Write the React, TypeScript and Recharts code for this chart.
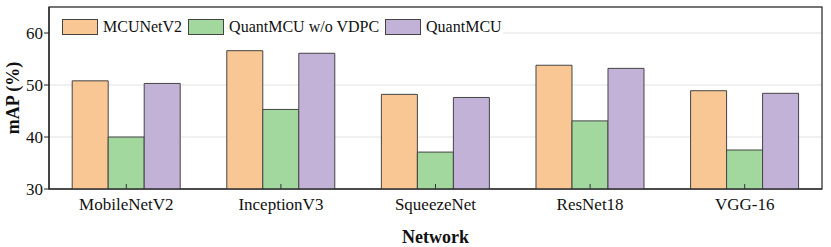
import { BarChart, Bar, XAxis, YAxis, CartesianGrid, useOffset, useChartWidth, useChartHeight } from "recharts";

const networks = ["MobileNetV2", "InceptionV3", "SqueezeNet", "ResNet18", "VGG-16"];
const mcunetV2 = [50.8, 56.6, 48.2, 53.8, 48.9];
const quantNoVdpc = [40.0, 45.3, 37.1, 43.1, 37.5];
const quantMcu = [50.3, 56.1, 47.6, 53.2, 48.4];
const yTicks = [30, 40, 50, 60];

const seriesInfo = [
  { key: "mcunet", name: "MCUNetV2", color: "#F9C794" },
  { key: "noVdpc", name: "QuantMCU w/o VDPC", color: "#A2D79D" },
  { key: "quant", name: "QuantMCU", color: "#C2B2D7" },
];

const data = networks.map((n, i) => ({
  name: n,
  mcunet: mcunetV2[i],
  noVdpc: quantNoVdpc[i],
  quant: quantMcu[i],
}));

const FONT = "'Liberation Serif', 'Times New Roman', serif";

function XTick(props: any) {
  const { x, y, payload } = props;
  return (
    <g>
      <line x1={x} x2={x} y1={y} y2={y - 5} stroke="#333" strokeWidth={1} />
      <text x={x} y={y + 21} textAnchor="middle" fontSize={17} fontFamily={FONT} fill="#111">
        {payload.value}
      </text>
    </g>
  );
}

function YTitle(props: any) {
  const { viewBox } = props;
  const cx = 13;
  const cy = viewBox.y + viewBox.height / 2;
  return (
    <text
      x={cx}
      y={cy}
      transform={`rotate(-90 ${cx} ${cy})`}
      textAnchor="middle"
      dominantBaseline="central"
      fontFamily={FONT}
      fontSize={18}
      fontWeight="bold"
      fill="#111"
    >
      mAP (%)
    </text>
  );
}

// box around the plot area
function Frame() {
  const off = useOffset();
  const w = useChartWidth();
  const h = useChartHeight();
  if (!off || !w || !h) return null;
  return (
    <rect
      x={off.left}
      y={off.top}
      width={w - off.left - off.right}
      height={h - off.top - off.bottom}
      fill="none"
      stroke="#222"
      strokeWidth={1.2}
    />
  );
}

function LegendBox() {
  return (
    <div
      style={{
        position: "absolute",
        left: 50,
        top: 13,
        display: "flex",
        alignItems: "center",
        background: "#fff",
        height: 28,
        fontFamily: FONT,
        fontSize: 16,
        color: "#111",
        paddingLeft: 12,
        width: 453,
        boxSizing: "border-box",
      }}
    >
      {seriesInfo.map((s) => (
        <div key={s.key} style={{ display: "flex", alignItems: "center", marginRight: 6 }}>
          <span
            style={{
              display: "inline-block",
              width: 34,
              height: 14,
              background: s.color,
              border: "1px solid #444",
              marginRight: 5,
            }}
          />
          <span style={{ whiteSpace: "nowrap" }}>{s.name}</span>
        </div>
      ))}
    </div>
  );
}

export default function App() {
  return (
    <div style={{ position: "absolute", left: 0, top: 0, width: 831, height: 247, background: "#fff" }}>
      <BarChart
        width={831}
        height={247}
        data={data}
        margin={{ top: 7, right: 9, left: 0, bottom: 0 }}
        barCategoryGap="15%"
        barGap={0}
      >
        <CartesianGrid vertical={false} stroke="#e2e2e2" />
        <XAxis
          dataKey="name"
          height={58}
          tickLine={false}
          tickSize={0}
          tickMargin={0}
          axisLine={{ stroke: "#222", strokeWidth: 1.2 }}
          tick={<XTick />}
          interval={0}
          label={{
            value: "Network",
            position: "insideBottom",
            offset: 4,
            style: { fontFamily: FONT, fontSize: 18, fontWeight: "bold", fill: "#111" },
          }}
        />
        <YAxis
          width={49}
          domain={[30, 65]}
          ticks={yTicks}
          allowDataOverflow
          tickSize={5}
          tickMargin={1}
          tickLine={{ stroke: "#222" }}
          axisLine={{ stroke: "#222", strokeWidth: 1.2 }}
          tick={{ fontFamily: FONT, fontSize: 17, fill: "#111" }}
          label={<YTitle />}
        />
        {seriesInfo.map((s) => (
          <Bar
            key={s.key}
            dataKey={s.key}
            name={s.name}
            fill={s.color}
            stroke="#444"
            strokeWidth={1}
            isAnimationActive={false}
          />
        ))}
        <Frame />
      </BarChart>
      <LegendBox />
    </div>
  );
}
